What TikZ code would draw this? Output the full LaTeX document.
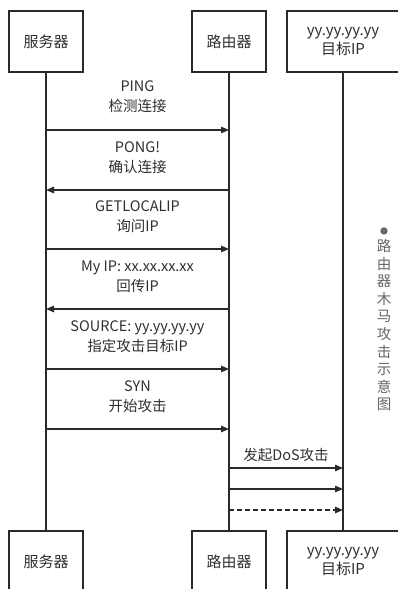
\documentclass[tikz,border=0pt]{standalone}
\usepackage{fontspec}
\setmainfont{Noto Sans CJK SC}
\usetikzlibrary{arrows.meta}
\definecolor{ink}{HTML}{2A2A2A}
\definecolor{txt}{HTML}{2F2F2F}
\definecolor{side}{HTML}{666666}
\tikzset{
  actor/.style={draw=ink, line width=1.6pt, minimum width=74pt, minimum height=61pt, inner sep=0pt, text=txt, font=\fontsize{15}{19}\selectfont, align=center},
  wideactor/.style={actor, minimum width=112pt},
  life/.style={draw=ink, line width=1.4pt},
  msg/.style={draw=ink, line width=1.3pt, -{Triangle[length=8pt,width=6.5pt]}},
  lbl/.style={text=txt, font=\fontsize{14.5}{20}\selectfont, align=center, inner sep=0pt},
}
\begin{document}
\begin{tikzpicture}[x=1pt, y=-1pt]
\useasboundingbox (0,0) rectangle (398,589);
% top actors
\node[actor] (s1) at (46,41.5) {服务器};
\node[actor] (r1) at (229,41.5) {路由器};
\node[wideactor] (t1) at (343,41.5) {yy.yy.yy.yy\\目标IP};
% bottom actors
\node[actor] (s2) at (46,561.5) {服务器};
\node[actor] (r2) at (229,561.5) {路由器};
\node[wideactor] (t2) at (343,561.5) {yy.yy.yy.yy\\目标IP};
% lifelines
\draw[life] (s1) -- (s2);
\draw[life] (r1) -- (r2);
\draw[life] (t1) -- (t2);
% message anchors
\foreach \n/\y in {a/130,b/190,c/249,d/309,e/369,f/429,g/468,h/489,i/510}{
  \coordinate (s\n) at (s1 |- 0,\y);
  \coordinate (r\n) at (r1 |- 0,\y);
  \coordinate (t\n) at (t1 |- 0,\y);
}
\draw[msg] (sa) -- (ra);
\draw[msg] (rb) -- (sb);
\draw[msg] (sc) -- (rc);
\draw[msg] (rd) -- (sd);
\draw[msg] (se) -- (re);
\draw[msg] (sf) -- (rf);
\draw[msg] (rg) -- (tg);
\draw[msg] (rh) -- (th);
\draw[msg, dashed, dash pattern=on 5pt off 3pt] (ri) -- (ti);
% labels
\node[lbl] (la) at (137.5,97) {PING\\检测连接};
\node[lbl] (lb) at (137.5,158) {PONG!\\确认连接};
\node[lbl] (lc) at (137.5,217) {GETLOCALIP\\询问IP};
\node[lbl] (ld) at (137.5,277) {My IP: xx.xx.xx.xx\\回传IP};
\node[lbl] (le) at (137.5,337) {SOURCE: yy.yy.yy.yy\\指定攻击目标IP};
\node[lbl] (lf) at (137.5,397) {SYN\\开始攻击};
\node[lbl] (lg) at (286,455) {发起DoS攻击};
% side caption
\node[text=side, font=\fontsize{14.5}{17.6}\selectfont, align=center, inner sep=0pt, anchor=north] (cap) at (384,228)
  {{\fontsize{8}{10}\selectfont ●}\\[-1pt]路\\由\\器\\木\\马\\攻\\击\\示\\意\\图};
\end{tikzpicture}
\end{document}
